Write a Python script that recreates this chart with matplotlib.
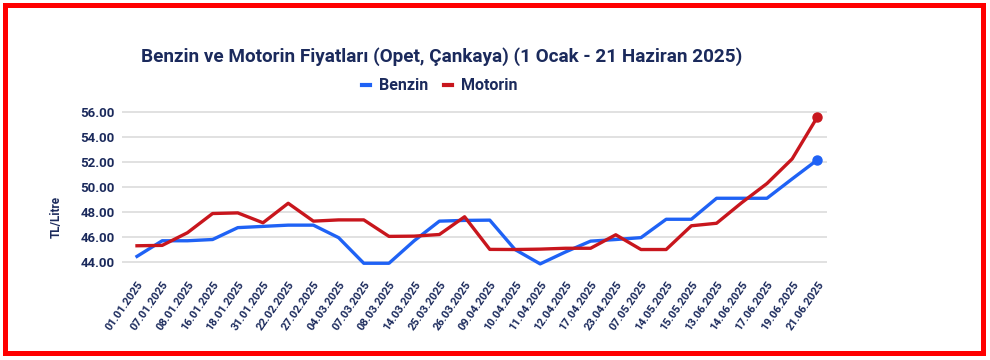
import matplotlib.pyplot as plt
from matplotlib.lines import Line2D
from matplotlib.patches import Rectangle

# --- data ---
dates = ['01.01.2025', '07.01.2025', '08.01.2025', '16.01.2025', '18.01.2025',
         '31.01.2025', '22.02.2025', '27.02.2025', '04.03.2025', '07.03.2025',
         '08.03.2025', '14.03.2025', '25.03.2025', '26.03.2025', '09.04.2025',
         '10.04.2025', '11.04.2025', '12.04.2025', '17.04.2025', '23.04.2025',
         '07.05.2025', '14.05.2025', '15.05.2025', '13.06.2025', '14.06.2025',
         '17.06.2025', '19.06.2025', '21.06.2025']
benzin = [44.45, 45.70, 45.70, 45.80, 46.75, 46.85, 46.95, 46.95, 45.95, 43.90,
          43.90, 45.70, 47.27, 47.33, 47.35, 45.00, 43.85, 44.80, 45.67, 45.80,
          45.95, 47.42, 47.42, 49.10, 49.10, 49.10, 50.65, 52.17]
motorin = [45.30, 45.33, 46.34, 47.88, 47.93, 47.14, 48.70, 47.27, 47.37, 47.37,
           46.05, 46.07, 46.20, 47.62, 45.01, 45.00, 45.03, 45.10, 45.10, 46.18,
           45.00, 45.00, 46.90, 47.10, 48.75, 50.28, 52.25, 55.60]
yticks = [44, 46, 48, 50, 52, 54, 56]

navy = '#1b2a5c'
blue = '#1f62f5'
red = '#c8161d'
plt.rcParams['font.family'] = ['Roboto', 'DejaVu Sans']

fig = plt.figure(figsize=(9.9, 3.6), dpi=100)
ax = fig.add_axes([0.1231, 0.2583, 0.7127, 0.4444])

x = list(range(len(dates)))
ax.plot(x, benzin, color=blue, linewidth=2.4, zorder=3)
ax.plot(x, motorin, color=red, linewidth=2.4, zorder=3)
ax.plot(x[-1], benzin[-1], 'o', color=blue, markersize=6.5, zorder=4)
ax.plot(x[-1], motorin[-1], 'o', color=red, markersize=6.5, zorder=4)

ax.set_xlim(-0.6, len(dates) - 1 + 0.4)
ax.set_ylim(43.6, 56.4)
ax.set_yticks(yticks)
ax.set_yticklabels([f'{v:.2f}' for v in yticks], fontsize=9.5, fontweight='bold', color=navy)
ax.set_xticks(x)
ax.set_xticklabels(dates, rotation=55, ha='right', rotation_mode='anchor',
                   fontsize=8, fontweight='bold', color=navy)
ax.tick_params(axis='both', length=0)
ax.tick_params(axis='y', pad=5)
ax.tick_params(axis='x', pad=9)
ax.grid(axis='y', color='#d9d9d9', linewidth=1.1)
ax.set_axisbelow(True)
for s in ax.spines.values():
    s.set_visible(False)

ax.set_ylabel('TL/Litre', fontsize=8.5, fontweight='bold', color=navy)
ax.yaxis.set_label_coords(-0.084, 0.31)

fig.text(442 / 990, 1 - 57 / 360, 'Benzin ve Motorin Fiyatları (Opet, Çankaya) (1 Ocak - 21 Haziran 2025)',
         ha='center', va='center', fontsize=13.6, fontweight='bold', color=navy)

handles = [Line2D([], [], color=blue, linewidth=3),
           Line2D([], [], color=red, linewidth=3)]
fig.legend(handles, ['Benzin', 'Motorin'], loc='center', bbox_to_anchor=(440 / 990, 1 - 86 / 360),
           ncol=2, frameon=False, handlelength=0.45, handletextpad=0.6, columnspacing=1.0,
           prop={'weight': 'bold', 'size': 11.5}, labelcolor=navy)

# red frame
fig.patches.append(Rectangle((4.5 / 990, 7.5 / 360), 978 / 990, 348 / 360, transform=fig.transFigure,
                             fill=False, edgecolor='#ff0000', linewidth=3.6))

fig.savefig('out.png', dpi=100, facecolor='white')
